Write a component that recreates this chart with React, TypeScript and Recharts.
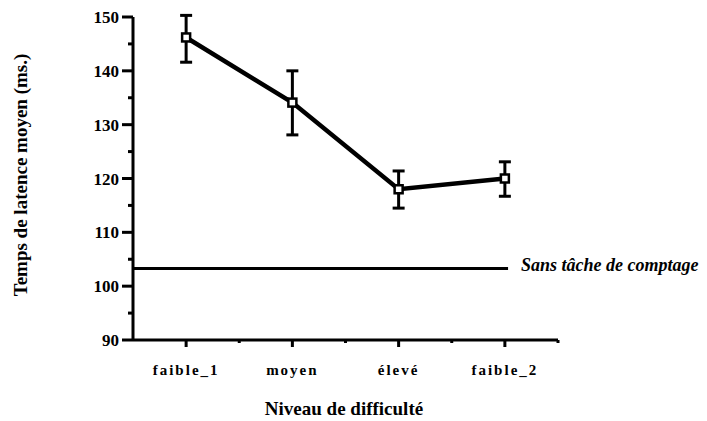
import React from 'react';
import { ComposedChart, Line, XAxis, YAxis, ErrorBar, ReferenceLine } from 'recharts';

const categories = ['faible_1', 'moyen', 'élevé', 'faible_2'];
const means = [146.2, 134.1, 118.0, 120.0];
const errLow = [4.6, 6.0, 3.5, 3.3];
const errHigh = [4.1, 5.9, 3.4, 3.1];
const yTicks = [90, 95, 100, 105, 110, 115, 120, 125, 130, 135, 140, 145, 150];
const xTicks = [1, 1.5, 2, 2.5, 3, 3.5, 4, 4.5];
const baselineValue = 103.3;
const baselineEnd = 4.03;
const baselineLabel = 'Sans tâche de comptage';
const yTitle = 'Temps de latence moyen (ms.)';
const xTitle = 'Niveau de difficulté';

const data = categories.map((c, i) => ({
  x: i + 1,
  name: c,
  mean: means[i],
  err: [errLow[i], errHigh[i]],
}));

const FONT = '"Liberation Serif", "Times New Roman", serif';

const YTick = (props: any) => {
  const { x, y, payload } = props;
  const v = payload.value;
  const major = v % 10 === 0;
  return (
    <g>
      <line x1={x - (major ? 11 : 5)} x2={x} y1={y} y2={y} stroke="#000" strokeWidth={3} />
      {major && (
        <text x={x - 14} y={y} dy={6} textAnchor="end" fontFamily={FONT} fontWeight="bold" fontSize={17} fill="#000">
          {v}
        </text>
      )}
    </g>
  );
};

const XTick = (props: any) => {
  const { x, y, payload } = props;
  const v = payload.value;
  const major = Number.isInteger(v);
  return (
    <g>
      <line x1={x} x2={x} y1={y} y2={y + (major ? 7 : 3)} stroke="#000" strokeWidth={3} />
      {major && (
        <text x={x} y={y + 35} textAnchor="middle" fontFamily={FONT} fontWeight="bold" fontSize={15} letterSpacing={2} fill="#000">
          {categories[v - 1]}
        </text>
      )}
    </g>
  );
};

const SquareDot = (props: any) => {
  const { cx, cy } = props;
  if (cx == null || cy == null) return null;
  return <rect x={cx - 4} y={cy - 4} width={8} height={8} fill="#fff" stroke="#000" strokeWidth={2.5} />;
};

const BaselineLabel = (props: any) => {
  const { viewBox } = props;
  const x = viewBox.x + viewBox.width;
  const y = viewBox.y;
  return (
    <text x={x + 13} y={y + 3} fontFamily={FONT} fontWeight="bold" fontStyle="italic" fontSize={18} fill="#000">
      {baselineLabel}
    </text>
  );
};

export default function App() {
  return (
    <div style={{ position: 'absolute', left: 0, top: 0, width: 707, height: 421, background: '#fff' }}>
      <ComposedChart width={707} height={421} data={data} margin={{ top: 17, right: 149, bottom: 41, left: 73 }}>
        <XAxis
          type="number"
          dataKey="x"
          domain={[0.5, 4.5]}
          ticks={xTicks}
          interval={0}
          allowDataOverflow
          height={40}
          tickSize={0}
          tickMargin={0}
          tickLine={false}
          axisLine={{ stroke: '#000', strokeWidth: 3 }}
          tick={<XTick />}
        />
        <YAxis
          type="number"
          domain={[90, 150]}
          ticks={yTicks}
          interval={0}
          allowDataOverflow
          width={60}
          tickSize={0}
          tickMargin={0}
          tickLine={false}
          axisLine={{ stroke: '#000', strokeWidth: 3 }}
          tick={<YTick />}
        />
        <ReferenceLine
          segment={[{ x: 0.5, y: baselineValue }, { x: baselineEnd, y: baselineValue }]}
          stroke="#000"
          strokeWidth={3}
          ifOverflow="visible"
          label={<BaselineLabel />}
        />
        <Line
          dataKey="mean"
          stroke="#000"
          strokeWidth={4.5}
          dot={<SquareDot />}
          activeDot={false}
          isAnimationActive={false}
        >
          <ErrorBar dataKey="err" direction="y" width={6} stroke="#000" strokeWidth={3} isAnimationActive={false} />
        </Line>
        <text x={344} y={415} textAnchor="middle" fontFamily={FONT} fontWeight="bold" fontSize={19} fill="#000">
          {xTitle}
        </text>
        <text
          x={27}
          y={175}
          transform="rotate(-90 27 175)"
          textAnchor="middle"
          fontFamily={FONT}
          fontWeight="bold"
          fontSize={19}
          fill="#000"
        >
          {yTitle}
        </text>
      </ComposedChart>
    </div>
  );
}
